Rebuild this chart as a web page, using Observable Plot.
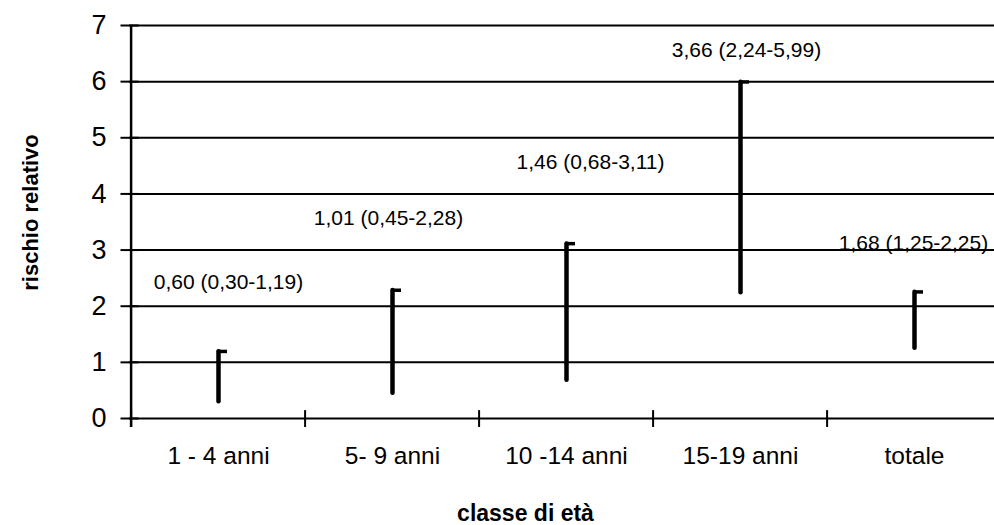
<!DOCTYPE html>
<html><head><meta charset="utf-8">
<script src="https://cdn.jsdelivr.net/npm/d3@7"></script>
<script src="https://cdn.jsdelivr.net/npm/@observablehq/plot@0.6"></script>
<style>
html,body{margin:0;padding:0;background:#fff;overflow:hidden}
#chart svg{overflow:hidden;display:block}
</style></head><body><div id="chart"></div>
<script>
// ---- data ----
const categories = ["1 - 4 anni", "5- 9 anni", "10 -14 anni", "15-19 anni", "totale"];
const rr = [0.60, 1.01, 1.46, 3.66, 1.68];
const ciLow = [0.30, 0.45, 0.68, 2.24, 1.25];
const ciHigh = [1.19, 2.28, 3.11, 5.99, 2.25];
const yTicks = [0, 1, 2, 3, 4, 5, 6, 7];
const xTitle = "classe di età";
const yTitle = "rischio relativo";

// ---- layout ----
const W = 994, H = 525, mLeft = 129, mTop = 25, yBase = 418;
const xEnd = 1003;
const band = (xEnd - mLeft) / categories.length;
const labelOffsets = [[10, -63], [-4, -65], [24, -75], [6, -25], [-1, -42]];
const font = "'Liberation Sans', Arial, sans-serif";

const fmt = v => v.toFixed(2).replace(".", ",");
const data = categories.map((c, i) => ({cat: c, rr: rr[i], low: ciLow[i], high: ciHigh[i]}));

const hTick = {draw(ctx) { ctx.rect(-9, -1, 18, 2); }};
const closeTick = {draw(ctx) { ctx.rect(-1, -2, 9.5, 3.5); }};

const labelMarks = data.map((d, i) => Plot.text([d], {
  x: "cat", y: "high", dx: labelOffsets[i][0], dy: labelOffsets[i][1],
  text: d => `${fmt(d.rr)} (${fmt(d.low)}-${fmt(d.high)})`,
  lineAnchor: "bottom", fontSize: 21, fill: "black"
}));

const chart = Plot.plot({
  width: W, height: H,
  marginLeft: mLeft, marginRight: 0, marginTop: mTop, marginBottom: H - yBase,
  style: {fontFamily: font, color: "black", background: "white", overflow: "hidden"},
  x: {type: "band", domain: categories, range: [mLeft, xEnd], padding: 0, axis: null},
  y: {domain: [0, 7], axis: null},
  marks: [
    Plot.ruleY(yTicks, {y: d => d, stroke: "black", strokeWidth: 2}),
    Plot.ruleX([categories[0]], {x: d => d, y1: -0.16, y2: 7, dx: -band / 2, stroke: "black", strokeWidth: 2.5}),
    Plot.ruleX(categories, {x: d => d, y1: -0.16, y2: 0.14, dx: -band / 2, stroke: "black", strokeWidth: 2}),
    Plot.dot(yTicks, {y: d => d, frameAnchor: "left", symbol: hTick, fill: "black", stroke: null}),
    Plot.text(yTicks, {y: d => d, frameAnchor: "left", dx: -23, textAnchor: "end", lineAnchor: "middle", fontSize: 27, fill: "black"}),
    Plot.text(categories, {x: d => d, frameAnchor: "bottom", dy: 45, lineAnchor: "bottom", fontSize: 24.5, fill: "black"}),
    Plot.ruleX(data, {x: "cat", y1: "low", y2: "high", stroke: "black", strokeWidth: 4.5, strokeLinecap: "round"}),
    Plot.dot(data, {x: "cat", y: "high", symbol: closeTick, fill: "black", stroke: null}),
    ...labelMarks,
    Plot.text([xTitle], {frameAnchor: "bottom", textAnchor: "middle", dx: 525 - (mLeft + W) / 2, dy: 102, lineAnchor: "bottom", fontWeight: "bold", fontSize: 23, fill: "black"}),
    Plot.text([yTitle], {frameAnchor: "left", textAnchor: "middle", rotate: -90, dx: 37 - mLeft, dy: 212 - (mTop + yBase) / 2, lineAnchor: "bottom", fontWeight: "bold", fontSize: 22, fill: "black"})
  ]
});
document.getElementById("chart").appendChild(chart);
</script>
</body></html>
